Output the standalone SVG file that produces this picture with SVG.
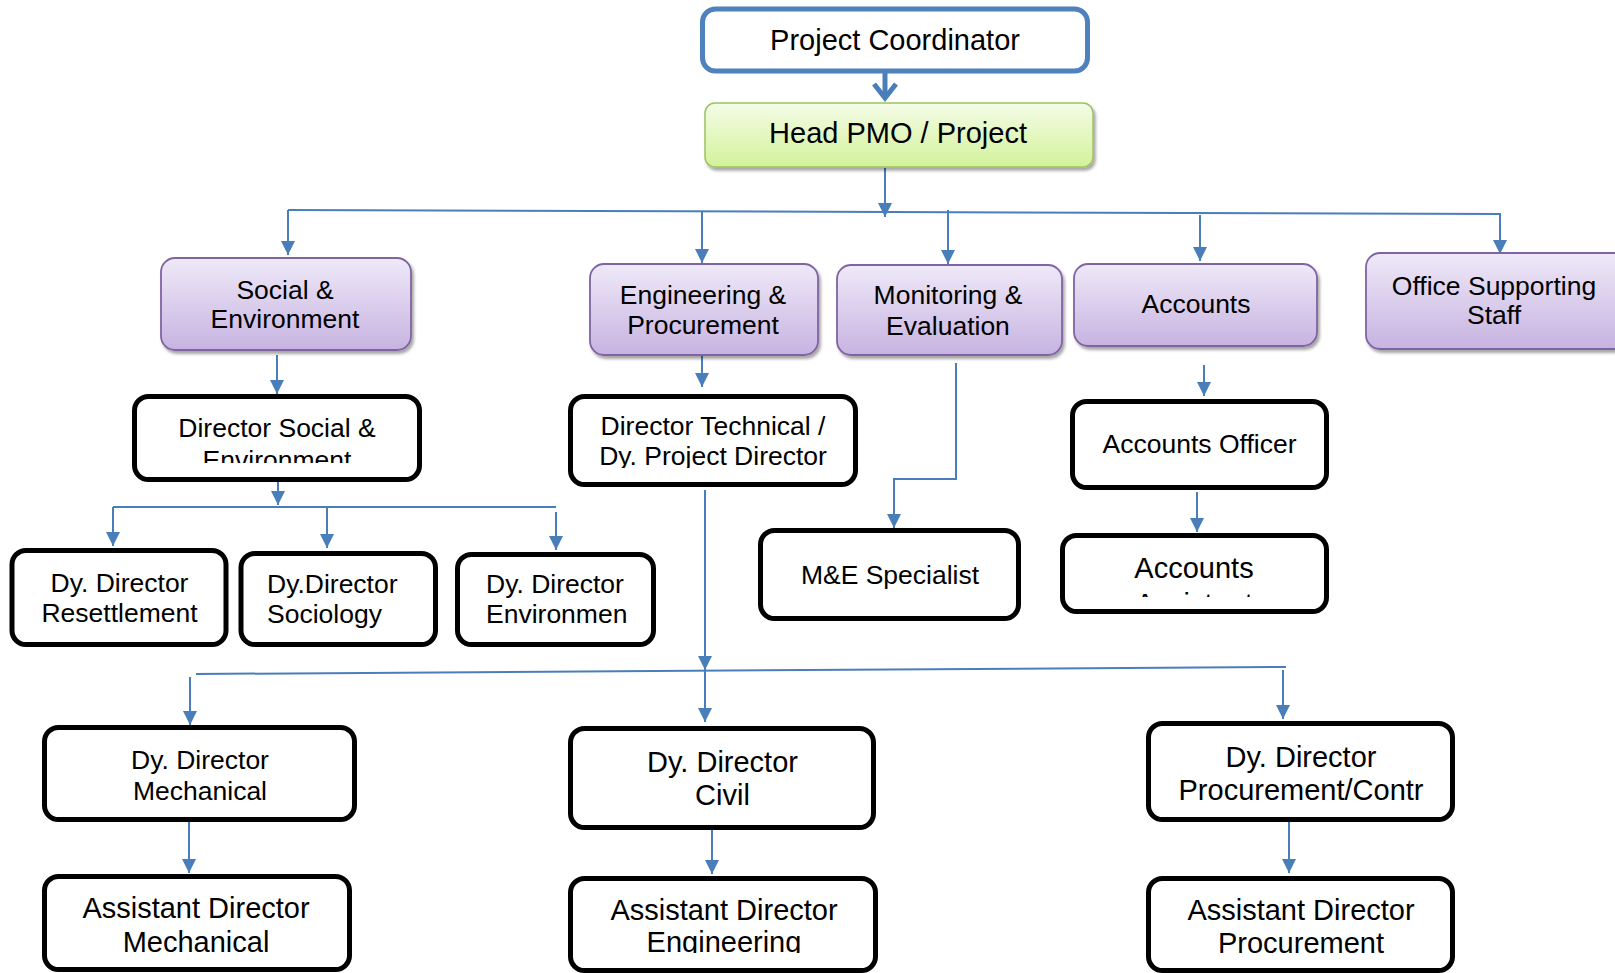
<svg xmlns="http://www.w3.org/2000/svg" width="1615" height="973" viewBox="0 0 1615 973">
  <style>
    text { font-family: "Liberation Sans", Arial, sans-serif; fill: #000; text-anchor: middle; }
    .t26 { font-size: 26.5px; }
    .t29 { font-size: 29px; }
    .left { text-anchor: start; }
    .box { fill: #fff; stroke: #000; stroke-width: 5; }
    .dept { fill: url(#purple); stroke: #8064A2; stroke-width: 1.8; filter: url(#shadow); }
    .conn { fill: none; stroke: #4A7EBB; stroke-width: 2; }
    .arr { marker-end: url(#head); }
  </style>
  <defs>
    <linearGradient id="purple" x1="0" y1="0" x2="0" y2="1">
      <stop offset="0" stop-color="#EFE9F8"/>
      <stop offset="1" stop-color="#C7B3E1"/>
    </linearGradient>
    <linearGradient id="green" x1="0" y1="0" x2="0" y2="1">
      <stop offset="0" stop-color="#F4FCE7"/>
      <stop offset="1" stop-color="#D3F29A"/>
    </linearGradient>
    <filter id="shadow" x="-5%" y="-10%" width="115%" height="130%">
      <feDropShadow dx="2" dy="3" stdDeviation="1.5" flood-color="#000" flood-opacity="0.35"/>
    </filter>
    <marker id="head" viewBox="0 0 14 14" refX="14" refY="7" markerWidth="14" markerHeight="14" orient="auto" markerUnits="userSpaceOnUse">
      <path d="M0,0 L14,7 L0,14 z" fill="#4A7EBB"/>
    </marker>
    <clipPath id="clipDirSE"><rect x="130" y="390" width="300" height="73"/></clipPath>
    <clipPath id="clipDirTech"><rect x="565" y="390" width="300" height="78"/></clipPath>
    <clipPath id="clipAccAsst"><rect x="1060" y="530" width="270" height="67"/></clipPath>
    <clipPath id="clipAdEng"><rect x="565" y="875" width="315" height="78"/></clipPath>
  </defs>

  <!-- connectors -->
  <g id="connectors">
    <line x1="885" y1="73" x2="885" y2="98" stroke="#4A7EBB" stroke-width="5"/>
    <path d="M874,84 L885,98 L896,84" fill="none" stroke="#4A7EBB" stroke-width="5" stroke-linejoin="miter"/>
    <line class="conn arr" x1="885" y1="168" x2="885" y2="217"/>
    <line class="conn" x1="288" y1="210" x2="1501" y2="214"/>
    <line class="conn arr" x1="288" y1="210" x2="288" y2="255"/>
    <line class="conn arr" x1="702" y1="211" x2="702" y2="263"/>
    <line class="conn arr" x1="948" y1="210" x2="948" y2="264"/>
    <line class="conn arr" x1="1200" y1="215" x2="1200" y2="261"/>
    <line class="conn arr" x1="1500" y1="214" x2="1500" y2="254"/>

    <line class="conn arr" x1="277" y1="355" x2="277" y2="394"/>
    <line class="conn arr" x1="702" y1="355" x2="702" y2="387"/>
    <path class="conn arr" d="M956,363 L956,479 L894,479 L894,528"/>
    <line class="conn arr" x1="1204" y1="365" x2="1204" y2="396"/>
    <line class="conn arr" x1="1197" y1="492" x2="1197" y2="532"/>

    <line class="conn arr" x1="278" y1="482" x2="278" y2="505"/>
    <line class="conn" x1="113" y1="507" x2="556" y2="507"/>
    <line class="conn arr" x1="113" y1="507" x2="113" y2="546"/>
    <line class="conn arr" x1="327" y1="507" x2="327" y2="548"/>
    <line class="conn arr" x1="556" y1="512" x2="556" y2="550"/>

    <line class="conn arr" x1="705" y1="490" x2="705" y2="670"/>
    <line class="conn" x1="196" y1="674" x2="1286" y2="667"/>
    <line class="conn arr" x1="190" y1="677" x2="190" y2="725"/>
    <line class="conn arr" x1="705" y1="671" x2="705" y2="722"/>
    <line class="conn arr" x1="1283" y1="670" x2="1283" y2="719"/>

    <line class="conn arr" x1="189" y1="822" x2="189" y2="873"/>
    <line class="conn arr" x1="712" y1="830" x2="712" y2="874"/>
    <line class="conn arr" x1="1289" y1="822" x2="1289" y2="873"/>
  </g>

  <!-- top level -->
  <g id="project-coordinator">
    <rect x="702.5" y="9" width="385" height="62" rx="13" fill="#fff" stroke="#4F81BD" stroke-width="5"/>
    <text class="t29" x="895" y="50">Project Coordinator</text>
  </g>
  <g id="head-pmo">
    <rect x="705" y="103" width="388" height="64" rx="10" fill="url(#green)" stroke="#9CC25E" stroke-width="1.5" filter="url(#shadow)"/>
    <text class="t29" x="898" y="143">Head PMO / Project</text>
  </g>

  <!-- departments -->
  <g id="social-environment">
    <rect class="dept" x="161" y="258" width="250" height="92" rx="14"/>
    <text class="t26" x="285" y="299">Social &amp;</text>
    <text class="t26" x="285" y="328">Environment</text>
  </g>
  <g id="engineering-procurement">
    <rect class="dept" x="590" y="264" width="228" height="91" rx="14"/>
    <text class="t26" x="703" y="304">Engineering &amp;</text>
    <text class="t26" x="703" y="334">Procurement</text>
  </g>
  <g id="monitoring-evaluation">
    <rect class="dept" x="837" y="265" width="225" height="90" rx="14"/>
    <text class="t26" x="948" y="304">Monitoring &amp;</text>
    <text class="t26" x="948" y="335">Evaluation</text>
  </g>
  <g id="accounts">
    <rect class="dept" x="1074" y="264" width="243" height="82" rx="14"/>
    <text class="t26" x="1196" y="313">Accounts</text>
  </g>
  <g id="office-supporting-staff">
    <rect class="dept" x="1366" y="253" width="262" height="96" rx="14"/>
    <text class="t26" x="1494" y="295">Office Supporting</text>
    <text class="t26" x="1494" y="324">Staff</text>
  </g>

  <!-- directors -->
  <g id="director-social-environment">
    <rect class="box" x="134.5" y="396.5" width="285" height="83" rx="14"/>
    <g clip-path="url(#clipDirSE)">
      <text class="t26" x="277" y="437">Director Social &amp;</text>
      <text class="t26" x="277" y="469">Environment</text>
    </g>
  </g>
  <g id="director-technical">
    <rect class="box" x="570.5" y="396.5" width="285" height="88" rx="14"/>
    <g clip-path="url(#clipDirTech)">
      <text class="t26" x="713" y="435">Director Technical /</text>
      <text class="t26" x="713" y="465">Dy. Project Director</text>
    </g>
  </g>
  <g id="accounts-officer">
    <rect class="box" x="1072.5" y="401.5" width="254" height="86" rx="14"/>
    <text class="t26" x="1199.5" y="453">Accounts Officer</text>
  </g>
  <g id="me-specialist">
    <rect class="box" x="760.5" y="530.5" width="258" height="88" rx="14"/>
    <text class="t26" x="890" y="584">M&amp;E Specialist</text>
  </g>
  <g id="accounts-assistant">
    <rect class="box" x="1062.5" y="535.5" width="264" height="76" rx="14"/>
    <g clip-path="url(#clipAccAsst)">
      <text class="t29" x="1194" y="578">Accounts</text>
      <text class="t29" x="1194" y="614">Assistant</text>
    </g>
  </g>

  <!-- deputy directors, social & environment -->
  <g id="dd-resettlement">
    <rect class="box" x="12" y="550.5" width="214" height="94" rx="14"/>
    <text class="t26" x="119.5" y="592">Dy. Director</text>
    <text class="t26" x="119.5" y="622">Resettlement</text>
  </g>
  <g id="dd-sociology">
    <rect class="box" x="241" y="553.5" width="194.5" height="91" rx="14"/>
    <text class="t26 left" x="267" y="593">Dy.Director</text>
    <text class="t26 left" x="267" y="623">Sociology</text>
  </g>
  <g id="dd-environment">
    <rect class="box" x="457.5" y="554.5" width="196" height="90" rx="14"/>
    <text class="t26 left" x="486" y="593">Dy. Director</text>
    <text class="t26 left" x="486" y="623">Environmen</text>
  </g>

  <!-- deputy directors, technical -->
  <g id="dd-mechanical">
    <rect class="box" x="44.5" y="727.5" width="310" height="92" rx="14"/>
    <text class="t26" x="200" y="769">Dy. Director</text>
    <text class="t26" x="200" y="800">Mechanical</text>
  </g>
  <g id="dd-civil">
    <rect class="box" x="570.5" y="728.5" width="303" height="99" rx="14"/>
    <text class="t29" x="722.5" y="772">Dy. Director</text>
    <text class="t29" x="722.5" y="805">Civil</text>
  </g>
  <g id="dd-procurement">
    <rect class="box" x="1148.5" y="723.5" width="304" height="96" rx="14"/>
    <text class="t29" x="1301" y="767">Dy. Director</text>
    <text class="t29" x="1301" y="800">Procurement/Contr</text>
  </g>

  <!-- assistant directors -->
  <g id="ad-mechanical">
    <rect class="box" x="44.5" y="876.5" width="305" height="93" rx="14"/>
    <text class="t29" x="196" y="918">Assistant Director</text>
    <text class="t29" x="196" y="952">Mechanical</text>
  </g>
  <g id="ad-engineering">
    <rect class="box" x="570.5" y="878.5" width="305" height="92" rx="14"/>
    <g clip-path="url(#clipAdEng)">
      <text class="t29" x="724" y="920">Assistant Director</text>
      <text class="t29" x="724" y="952">Engineering</text>
    </g>
  </g>
  <g id="ad-procurement">
    <rect class="box" x="1148.5" y="878.5" width="304" height="92" rx="14"/>
    <text class="t29" x="1301" y="920">Assistant Director</text>
    <text class="t29" x="1301" y="953">Procurement</text>
  </g>
</svg>
